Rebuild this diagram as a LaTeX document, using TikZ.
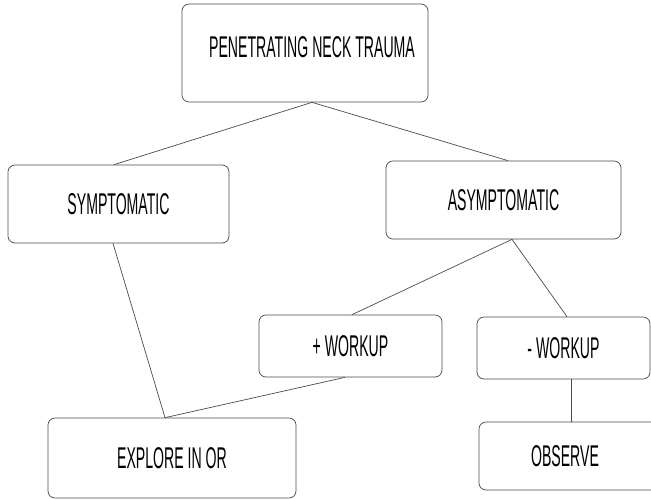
\documentclass[tikz,border=0pt]{standalone}
\usepackage{fontspec}
\setmainfont[FakeStretch=0.47]{Liberation Sans}
\definecolor{flowgray}{HTML}{4A4A4A}

\begin{document}
\begin{tikzpicture}[x=1pt,y=-1pt,
  box/.style={rectangle,draw=flowgray,rounded corners=7pt,fill=white,
    line width=0.7pt,align=center,font=\fontsize{30}{34}\selectfont,inner sep=0pt},
  lnk/.style={line width=0.7pt,color=flowgray}
]
  \useasboundingbox (0,0) rectangle (651,499);
  \clip (0,0) rectangle (651,499);
  \node[box,minimum width=246,minimum height=98,text depth=11pt] (trauma) at (305,53) {\hspace*{14pt}PENETRATING NECK TRAUMA};
  \node[box,minimum width=221,minimum height=78] (symp)    at (118.5,204) {SYMPTOMATIC};
  \node[box,minimum width=235,minimum height=78] (asymp)   at (503.5,200) {ASYMPTOMATIC};
  \node[box,minimum width=183,minimum height=62] (pos)     at (350.5,346) {+ WORKUP};
  \node[box,minimum width=173,minimum height=62] (neg)     at (563.5,348) {- WORKUP};
  \node[box,minimum width=248,minimum height=80] (explore) at (172,458)   {EXPLORE IN OR};
  \node[box,minimum width=191,minimum height=68] (observe) at (574.5,456) {\hspace*{-19pt}OBSERVE};

  \draw[lnk] ([xshift=7]trauma.south) -- ([xshift=-4.5]symp.north);
  \draw[lnk] ([xshift=7]trauma.south) -- ([xshift=4.5]asymp.north);
  \draw[lnk] ([xshift=8.5]asymp.south) -- ([xshift=1.5]pos.north);
  \draw[lnk] ([xshift=8.5]asymp.south) -- ([xshift=3.5]neg.north);
  \draw[lnk] ([xshift=7.5]neg.south) -- ([xshift=-3.5]observe.north);
  \draw[lnk] ([xshift=-5.5]symp.south) -- ([xshift=-7]explore.north);
  \draw[lnk] ([xshift=-5.5]pos.south) -- ([xshift=-7]explore.north);
\end{tikzpicture}
\end{document}
